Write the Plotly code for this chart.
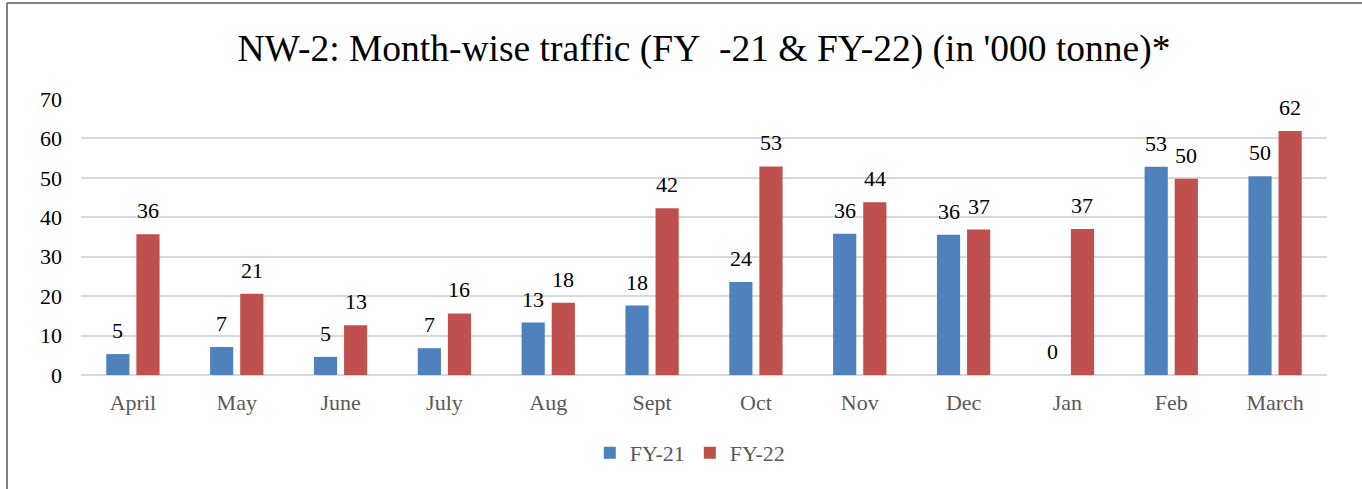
import plotly.graph_objects as go

months = ["April", "May", "June", "July", "Aug", "Sept", "Oct", "Nov", "Dec", "Jan", "Feb", "March"]
fy21 = [5.3, 7.1, 4.6, 6.8, 13.3, 17.6, 23.6, 35.8, 35.6, 0, 52.8, 50.4]
fy22 = [35.7, 20.6, 12.6, 15.6, 18.3, 42.3, 52.9, 43.8, 36.9, 37.0, 49.8, 61.9]
series_names = ["FY-21", "FY-22"]
colors = ["#4f81bd", "#c0504d"]
y_ticks = [0, 10, 20, 30, 40, 50, 60, 70]

FONT = "Liberation Serif"

fig = go.Figure()
for name, vals, col in zip(series_names, [fy21, fy22], colors):
    fig.add_trace(go.Bar(
        x=months, y=vals, name=name,
        marker=dict(color=col, line=dict(width=0)),
    ))

annotations = []
for vals, shift in zip([fy21, fy22], [-15, 15]):
    for m, v in zip(months, vals):
        annotations.append(dict(
            x=m, y=v, xref="x", yref="y", text=f"{v:.0f}",
            showarrow=False, xshift=shift, yshift=9, yanchor="bottom",
            font=dict(family=FONT, size=22, color="#000000"),
        ))

fig.update_layout(
    width=1362, height=489,
    margin=dict(l=81, r=35, t=99, b=114, autoexpand=False),
    paper_bgcolor="white", plot_bgcolor="white",
    font=dict(family=FONT),
    barmode="group", bargap=0.42, bargroupgap=0.23,
    title=dict(
        text="NW-2: Month-wise traffic (FY\u00a0\u00a0-21 & FY-22) (in '000 tonne)*",
        x=0.5, xref="paper", xanchor="center",
        y=1 - 48 / 489, yref="container", yanchor="middle",
        font=dict(family=FONT, size=37.5, color="#000000"),
    ),
    xaxis=dict(
        showgrid=False, showline=False, zeroline=False,
        tickfont=dict(family=FONT, size=22, color="#595959"),
        ticklabelstandoff=12,
    ),
    yaxis=dict(
        range=[0, 70], tickvals=y_ticks,
        showgrid=True, gridcolor="#d9d9d9", gridwidth=1.5,
        zeroline=True, zerolinecolor="#d9d9d9", zerolinewidth=1.5,
        showline=False,
        tickfont=dict(family=FONT, size=22, color="#000000"),
        ticklabelstandoff=18,
    ),
    legend=dict(
        orientation="h", x=0.489, xanchor="center",
        y=(375 - 453) / 276, yanchor="middle",
        font=dict(family=FONT, size=22, color="#595959"),
        itemwidth=30, tracegroupgap=0,
    ),
    annotations=annotations,
    shapes=[
        dict(type="line", xref="paper", yref="paper",
             x0=(7 - 81) / 1246, x1=(7 - 81) / 1246, y0=(375 - 3) / 276, y1=(375 - 495) / 276,
             line=dict(color="#595959", width=1.5)),
        dict(type="line", xref="paper", yref="paper",
             x0=(7 - 81) / 1246, x1=(1365 - 81) / 1246, y0=(375 - 3) / 276, y1=(375 - 3) / 276,
             line=dict(color="#595959", width=1.5)),
    ],
)

fig.write_html("out.html", config={"displayModeBar": False},
               post_script="document.body.style.margin='0';")
